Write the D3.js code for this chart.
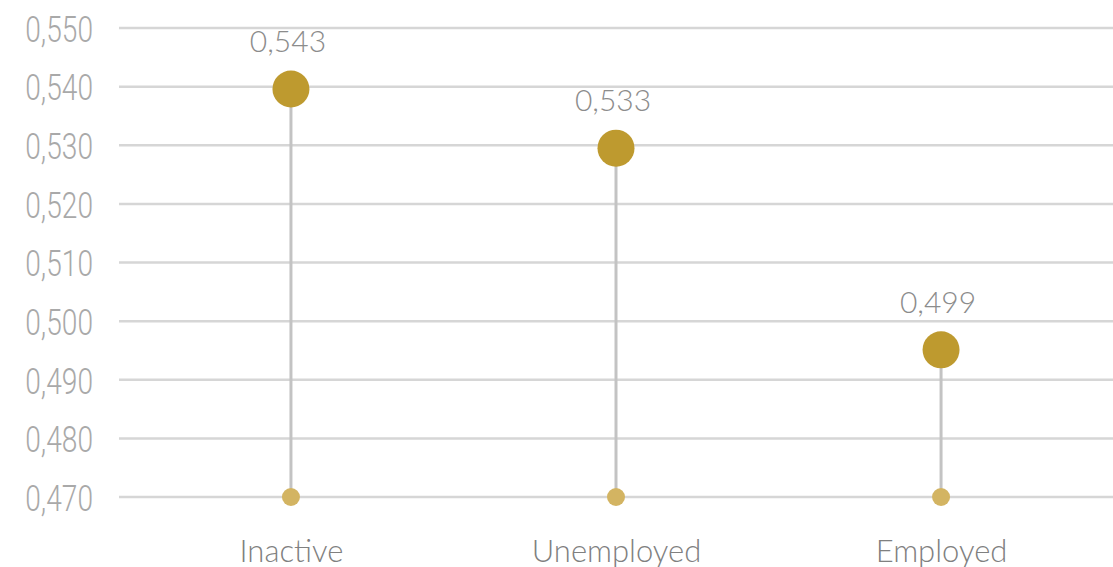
<!DOCTYPE html>
<html>
<head>
<meta charset="utf-8">
<script src="https://cdn.jsdelivr.net/npm/d3@7"></script>
<style>
  body { margin: 0; background: #fff; }
</style>
</head>
<body>
<div id="chart"></div>
<script>
// data
const categories = ["Inactive", "Unemployed", "Employed"];
const values = [0.5396, 0.5295, 0.4951];
const valueLabels = ["0,543", "0,533", "0,499"];
const baseValue = 0.470;
const yTicks = [0.470, 0.480, 0.490, 0.500, 0.510, 0.520, 0.530, 0.540, 0.550];

const W = 1113, H = 567;
const margin = {top: 28, right: 0, bottom: 70, left: 119};

const svg = d3.select("#chart")
  .append("svg")
  .attr("width", W)
  .attr("height", H);

const x = d3.scalePoint()
  .domain(categories)
  .range([margin.left, W - margin.right])
  .padding(0.529);

const y = d3.scaleLinear()
  .domain([0.470, 0.550])
  .range([H - margin.bottom, margin.top]);

const fmt = d => d3.format(".3f")(d).replace(".", ",");

// grid
svg.append("g")
  .selectAll("line")
  .data(yTicks)
  .join("line")
  .attr("x1", margin.left)
  .attr("x2", W)
  .attr("y1", d => y(d))
  .attr("y2", d => y(d))
  .attr("stroke", "#d6d6d6")
  .attr("stroke-width", 2.5);

// y axis labels (condensed look: squeeze Roboto Light horizontally)
const yAxis = svg.append("g")
  .attr("transform", `translate(93,0)`)
  .call(d3.axisLeft(y).tickValues(yTicks).tickFormat(fmt).tickSize(0).tickPadding(0));
yAxis.select(".domain").remove();
yAxis.selectAll("text")
  .attr("x", 0)
  .attr("fill", "#a9a9a9")
  .attr("dy", "0.36em")
  .attr("transform", "scale(0.76,1)")
  .style("font-family", "Roboto, sans-serif")
  .style("font-weight", 300)
  .style("font-size", "37px");

// x axis labels
const xAxis = svg.append("g")
  .attr("transform", `translate(0,${H - margin.bottom})`)
  .call(d3.axisBottom(x).tickSize(0).tickPadding(0));
xAxis.select(".domain").remove();
xAxis.selectAll("text")
  .attr("y", 65)
  .attr("dy", 0)
  .attr("fill", "#808080")
  .style("font-family", "Lato, sans-serif")
  .style("font-weight", 300)
  .style("font-size", "31px");

const rows = categories.map((c, i) => ({c, v: values[i], label: valueLabels[i]}));

// stems
svg.append("g")
  .selectAll("line")
  .data(rows)
  .join("line")
  .attr("x1", d => x(d.c))
  .attr("x2", d => x(d.c))
  .attr("y1", d => y(d.v))
  .attr("y2", y(baseValue))
  .attr("stroke", "#c3c3c3")
  .attr("stroke-width", 3);

// base dots
svg.append("g")
  .selectAll("circle")
  .data(rows)
  .join("circle")
  .attr("cx", d => x(d.c))
  .attr("cy", y(baseValue))
  .attr("r", 9)
  .attr("fill", "#d3b462");

// value dots
svg.append("g")
  .selectAll("circle")
  .data(rows)
  .join("circle")
  .attr("cx", d => x(d.c))
  .attr("cy", d => y(d.v))
  .attr("r", 18.5)
  .attr("fill", "#be9a2f");

// value labels
svg.append("g")
  .selectAll("text")
  .data(rows)
  .join("text")
  .attr("x", d => x(d.c) - 3)
  .attr("y", d => y(d.v) - 37)
  .attr("text-anchor", "middle")
  .attr("fill", "#8c8c8c")
  .style("font-family", "Lato, sans-serif")
  .style("font-weight", 300)
  .style("font-size", "30px")
  .text(d => d.label);
</script>
</body>
</html>
